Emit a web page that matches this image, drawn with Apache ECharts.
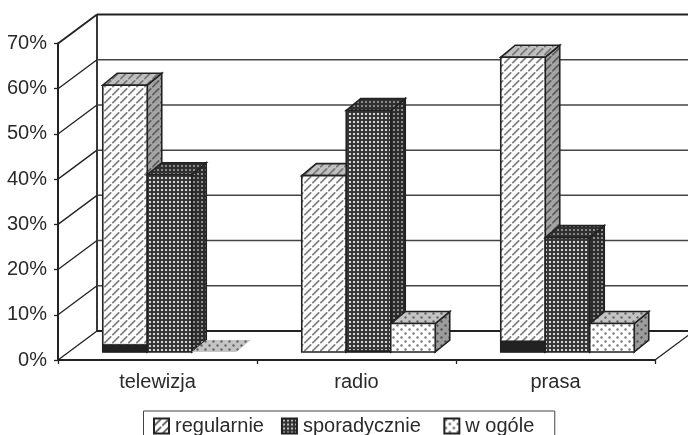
<!DOCTYPE html>
<html><head><meta charset="utf-8">
<style>html,body{margin:0;padding:0;background:#fff}#c{width:688px;height:435px}</style>
<script src="https://cdn.jsdelivr.net/npm/echarts@6/dist/echarts.min.js"></script>
</head><body><div id="c"></div>
<script>
const categories = ['telewizja', 'radio', 'prasa'];
const seriesNames = ['regularnie', 'sporadycznie', 'w ogóle'];
const regularnie = [59, 39, 65.2];
const sporadycznie = [39.2, 53.4, 25.3];
const wOgole = [0, 6.3, 6.3];
const regularnieBase = [1.7, 0, 2.5];
const sporadycznieBase = [0, 0.4, 0];
const wOgoleBase = [0, 0, 0];
const yTicks = [0, 10, 20, 30, 40, 50, 60, 70];

const WALL = [39, -29];      // depth of the 3D box
const FRONT = [12, -8];      // bar front plane relative to the box front
const DEPTH = [14.5, -12];   // bar depth
const BAR = 0.2236;          // bar width as a share of a category

function tile(w, h, draw) {
  const c = document.createElement('canvas'); c.width = w; c.height = h;
  draw(c.getContext('2d'), w, h); return { image: c, repeat: 'repeat' };
}
function hatch(bg, fg) {
  return tile(8, 8, (g, w, h) => {
    g.fillStyle = bg; g.fillRect(0, 0, w, h);
    g.strokeStyle = fg; g.lineWidth = 1.8;
    g.beginPath(); g.moveTo(0.3, 7.2); g.lineTo(7.2, 0.3); g.stroke();
  });
}
function grid4(bg, fg) {
  return tile(4, 4, (g, w, h) => {
    g.fillStyle = bg; g.fillRect(0, 0, w, h);
    g.fillStyle = fg; g.fillRect(1, 1, 2, 2);
  });
}
function dots(bg, fg) {
  return tile(8, 8, (g, w, h) => {
    g.fillStyle = bg; g.fillRect(0, 0, w, h);
    g.fillStyle = fg;
    [[1.5, 1.5], [5.5, 5.5]].forEach(p => { g.beginPath(); g.arc(p[0], p[1], 1.2, 0, 7); g.fill(); });
  });
}
const faces = [
  { front: hatch('#ffffff', '#808080'), side: hatch('#a4a4a4', '#5c5c5c'), top: hatch('#c0c0c0', '#777777') },
  { front: grid4('#383838', '#d8d8d8'), side: grid4('#2c2c2c', '#8c8c8c'), top: grid4('#303030', '#888888') },
  { front: dots('#ffffff', '#777777'), side: dots('#9c9c9c', '#555555'), top: dots('#c4c4c4', '#666666') }
];
const INK = '#222222';

function poly(points, fill, lineWidth) {
  return { type: 'polygon', shape: { points: points },
    style: { fill: fill, stroke: lineWidth ? INK : 'none', lineWidth: lineWidth || 0, lineJoin: 'miter' } };
}
function line(a, b, w, color) {
  return { type: 'line', shape: { x1: a[0], y1: a[1], x2: b[0], y2: b[1] },
    style: { stroke: color || '#333333', lineWidth: w } };
}
function renderWall(params, api) {
  const v = api.value(0);
  const p = api.coord([0, v]);
  const cs = params.coordSys;
  const x0 = cs.x, x1 = cs.x + cs.width;
  const y = p[1];
  const kids = [];
  kids.push(line([x0, y], [x0 + WALL[0], y + WALL[1]], v === 70 ? 1.8 : 1.3, INK));
  kids.push(line([x0 + WALL[0], y + WALL[1]], [x1 + WALL[0], y + WALL[1]], v === 0 || v === 70 ? 1.8 : 1.5, v === 0 || v === 70 ? INK : '#444444'));
  if (v === 0) {
    kids.push(line([x0 + WALL[0], y + WALL[1]], [x0 + WALL[0], y + WALL[1] - (cs.height)], 1.8, INK));
    kids.push(line([x1, y], [x1 + WALL[0], y + WALL[1]], 1.3, INK));
  }
  return { type: 'group', children: kids };
}
function barRenderer(idx) {
  return function (params, api) {
    const cat = api.value(0), val = api.value(1), base = api.value(2);
    const c0 = api.coord([cat, 0]);
    const cv = api.coord([cat, val]);
    const w = api.size([1, 0])[0] * BAR;
    const x0 = c0[0] + FRONT[0] + (idx - 1.5) * w, x1 = x0 + w;
    const yb = c0[1] + FRONT[1], yt = cv[1] + FRONT[1];
    const dx = DEPTH[0], dy = DEPTH[1];
    const f = faces[idx];
    if (val === 0) {
      return poly([[x0, yb], [x1, yb], [x1 + dx, yb + dy], [x0 + dx, yb + dy]], f.top, 0);
    }
    const kids = [
      poly([[x1, yb], [x1 + dx, yb + dy], [x1 + dx, yt + dy], [x1, yt]], f.side, 1.6),
      poly([[x0, yt], [x1, yt], [x1 + dx, yt + dy], [x0 + dx, yt + dy]], f.top, 1.6),
      poly([[x0, yb], [x1, yb], [x1, yt], [x0, yt]], f.front, 1.6)
    ];
    if (base > 0) {
      const ys = api.coord([cat, base])[1] + FRONT[1];
      kids.push(poly([[x0, yb], [x1, yb], [x1, ys], [x0, ys]], INK, 0.5));
    }
    return { type: 'group', children: kids };
  };
}
const values = [regularnie, sporadycznie, wOgole];
const bases = [regularnieBase, sporadycznieBase, wOgoleBase];
const legendFills = [hatch('#ffffff', '#555555'), grid4('#333333', '#bbbbbb'), dots('#ffffff', '#555555')];

const chart = echarts.init(document.getElementById('c'), null, { renderer: 'canvas' });
chart.setOption({
  animation: false,
  backgroundColor: '#ffffff',
  textStyle: { fontFamily: '"Liberation Sans", Arial, sans-serif' },
  grid: { left: 58, right: 33, top: 43.5, bottom: 75 },
  legend: {
    left: 143.5, top: 411, orient: 'horizontal',
    padding: [5, 20.5, 12, 9.5], itemGap: 17, itemWidth: 15, itemHeight: 15,
    borderColor: '#444444', borderWidth: 1, backgroundColor: '#ffffff',
    selectedMode: false,
    formatter: name => name === 'sporadycznie' ? name + '\u00a0' : name,
    textStyle: { fontSize: 20, color: '#2a2a2a', padding: [0, 0, 0, 1] },
    data: seriesNames.map((n, i) => ({
      name: n, icon: 'rect',
      itemStyle: { color: legendFills[i], borderColor: INK, borderWidth: 2 }
    }))
  },
  xAxis: {
    type: 'category', data: categories,
    axisLine: { lineStyle: { color: INK, width: 2 } },
    axisTick: { show: true, length: 4, lineStyle: { color: INK, width: 1.3 } },
    axisLabel: { fontSize: 20, color: '#2a2a2a', margin: 12 },
    splitLine: { show: false }
  },
  yAxis: {
    type: 'value', min: 0, max: 70, interval: 10,
    axisLine: { show: true, lineStyle: { color: INK, width: 2 } },
    axisTick: { show: true, length: 4, lineStyle: { color: INK, width: 1.3 } },
    axisLabel: { fontSize: 20, color: '#2a2a2a', margin: 11, formatter: v => v + '%' },
    splitLine: { show: false }
  },
  series: [
    { type: 'custom', name: '__wall', silent: true, z: 1, coordinateSystem: 'cartesian2d',
      encode: { x: -1, y: 0 }, data: yTicks.map(v => [v]), renderItem: renderWall },
  ].concat(seriesNames.map((n, i) => ({
    type: 'custom', name: n, z: 2 + i, coordinateSystem: 'cartesian2d',
    itemStyle: { color: legendFills[i] },
    encode: { x: 0, y: 1 },
    data: categories.map((_, k) => [k, values[i][k], bases[i][k]]),
    renderItem: barRenderer(i)
  })))
});
</script></body></html>
